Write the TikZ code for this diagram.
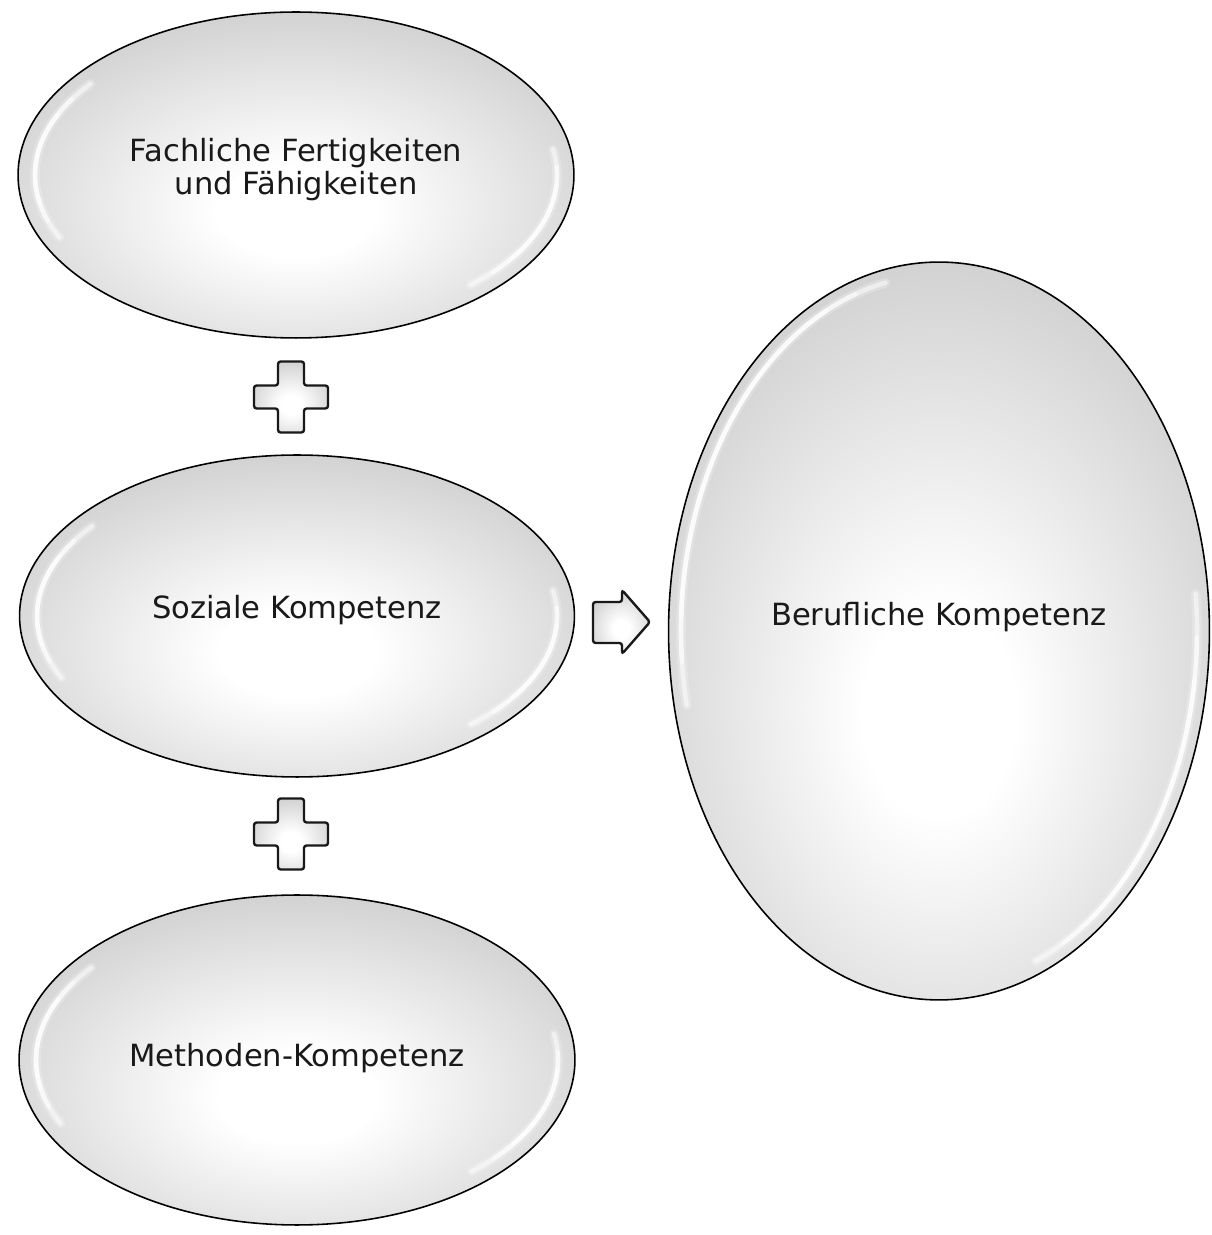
\documentclass[tikz,border=0pt]{standalone}
\usepackage{fontspec}
\setmainfont{DejaVu Sans}
\usetikzlibrary{shapes.geometric,calc}
\pgfdeclareradialshading{glossy}{\pgfpoint{0bp}{-6bp}}{color(0bp)=(white); color(7bp)=(white); color(50bp)=(black!34); color(100bp)=(black!34)}
\tikzset{
  bubble/.style={ellipse, draw=black, line width=0.9pt, shading=glossy, inner sep=0pt, outer sep=0pt, align=center, font=\fontsize{17.4}{18}\selectfont, text=black!90},
  hl/.style={white, line width=2.6pt, opacity=0.5, line cap=round},
  hlsoft/.style={white, line width=5.5pt, opacity=0.22, line cap=round},
  sym/.style={draw=black!90, line width=1.35pt, shading=glossy, rounded corners=1.5pt},
  plussign/.pic={\draw[sym] (-13,35.5) -- (13,35.5) -- (13,11.5) -- (37,11.5) -- (37,-11.5) -- (13,-11.5) -- (13,-35.5) -- (-13,-35.5) -- (-13,-11.5) -- (-37,-11.5) -- (-37,11.5) -- (-13,11.5) -- cycle;}
}
\newcommand{\glossrim}[7]{% name, rx, ry, left start, left end, right start, right end
  \draw[hlsoft] ($(#1.center)+(#4:#2 and #3)$) arc[start angle=#4, end angle=#5, x radius=#2, y radius=#3];
  \draw[hlsoft] ($(#1.center)+(#6:#2 and #3)$) arc[start angle=#6, end angle=#7, x radius=#2, y radius=#3];
  \foreach \d in {0,7,14}{
    \pgfmathsetmacro{\sa}{#4+\d}\pgfmathsetmacro{\ea}{#5-\d}
    \draw[hl] ($(#1.center)+(\sa:#2 and #3)$) arc[start angle=\sa, end angle=\ea, x radius=#2, y radius=#3];
    \pgfmathsetmacro{\sb}{#6+\d}\pgfmathsetmacro{\eb}{#7-\d}
    \draw[hl] ($(#1.center)+(\sb:#2 and #3)$) arc[start angle=\sb, end angle=\eb, x radius=#2, y radius=#3];
  }
}
\newcommand{\lift}[2]{\raisebox{#1}[\height][\depth]{#2}}
\begin{document}
\begin{tikzpicture}[x=0.02cm,y=0.02cm]
\useasboundingbox[fill=white] (0,0) rectangle (1212,1235);
\node[bubble, minimum width=11.12cm, minimum height=6.52cm] (fach) at (296,1060) {\lift{0.08cm}{\begin{tabular}{@{}c@{}}Fachliche Fertigkeiten\\und Fähigkeiten\end{tabular}}};
\node[bubble, minimum width=11.1cm, minimum height=6.44cm] (sozial) at (297,619) {\lift{0.12cm}{Soziale Kompetenz}};
\node[bubble, minimum width=11.12cm, minimum height=6.6cm] (methode) at (297,175) {\lift{0.04cm}{Methoden-Kompetenz}};
\node[bubble, minimum width=10.82cm, minimum height=14.76cm] (beruf) at (939,604) {\lift{0.28cm}{Berufliche Kompetenz}};
\glossrim{fach}{261}{148}{142}{205}{-48}{10}
\glossrim{sozial}{260}{146}{142}{205}{-48}{10}
\glossrim{methode}{261}{150}{142}{205}{-48}{10}
\glossrim{beruf}{258}{356}{102}{192}{-68}{6}
\pic at (291,838) {plussign};
\pic at (291,401) {plussign};
\draw[sym] (593,633) -- (622,633) -- (622,645) -- (650,613) -- (622,581) -- (622,592) -- (593,592) -- cycle;
\end{tikzpicture}
\end{document}
